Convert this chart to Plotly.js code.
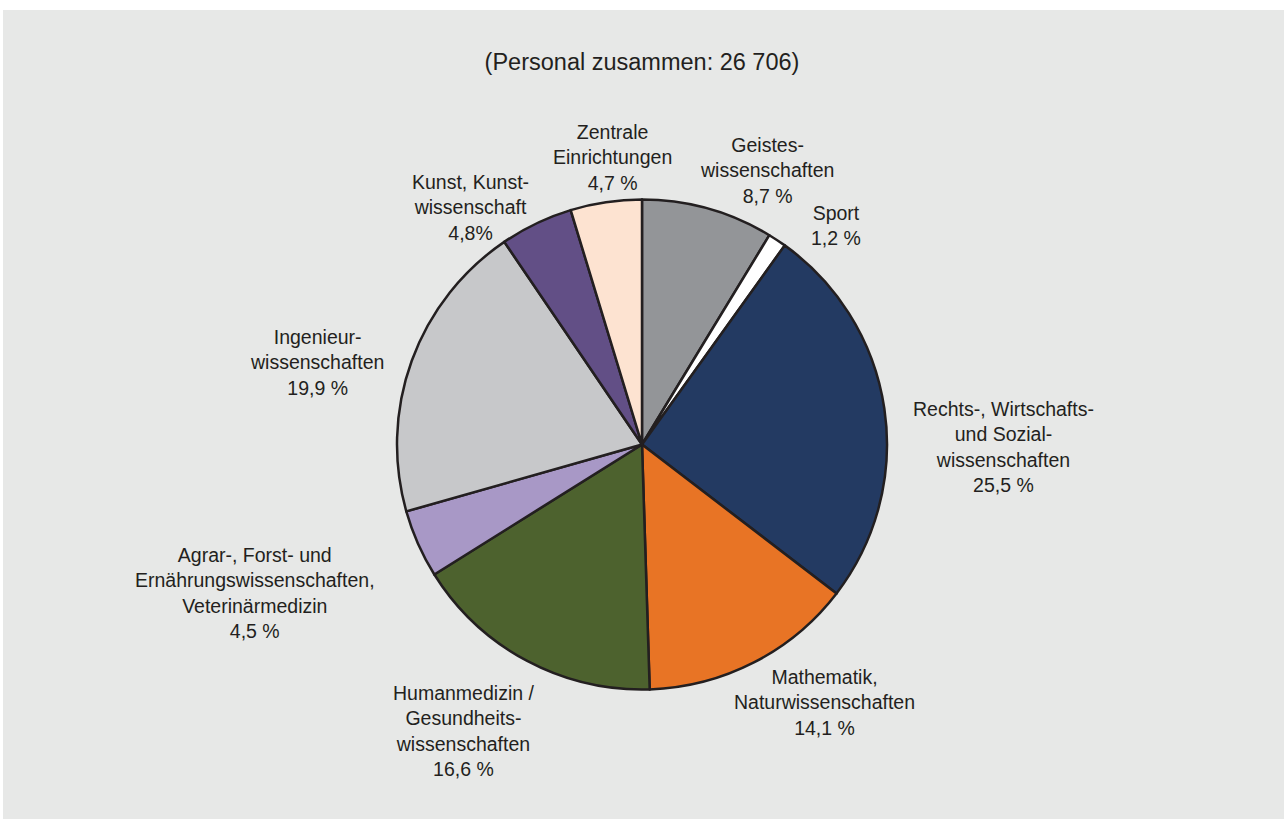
<!DOCTYPE html>
<html>
<head>
<meta charset="utf-8">
<script src="https://cdn.plot.ly/plotly-3.0.1.min.js"></script>
<style>html,body{margin:0;padding:0;background:#fff;}#chart{width:1284px;height:819px;}</style>
</head>
<body>
<div id="chart"></div>
<script>
// Data
const categories = [
  "Geistes-<br>wissenschaften",
  "Sport",
  "Rechts-, Wirtschafts-<br>und Sozial-<br>wissenschaften",
  "Mathematik,<br>Naturwissenschaften",
  "Humanmedizin /<br>Gesundheits-<br>wissenschaften",
  "Agrar-, Forst- und<br>Ernährungswissenschaften,<br>Veterinärmedizin",
  "Ingenieur-<br>wissenschaften",
  "Kunst, Kunst-<br>wissenschaft",
  "Zentrale<br>Einrichtungen"
];
const shares = [8.7, 1.2, 25.5, 14.1, 16.6, 4.5, 19.9, 4.8, 4.7];
const shareLabels = ["8,7 %", "1,2 %", "25,5 %", "14,1 %", "16,6 %", "4,5 %", "19,9 %", "4,8%", "4,7 %"];
const colors = ["#939598", "#ffffff", "#233a62", "#e87425", "#4d622e", "#a898c6", "#c7c8ca", "#624f86", "#fde3d1"];
const titleText = "(Personal zusammen: 26 706)";

// Layout helpers (pixel positions of label block centres)
const W = 1284, H = 819;
const labelPos = [[767,170],[836,225],[1003,447],[824,702],[463,731],[255,593],[317,362],[470,207],[612,157]];
const px = x => x / W, py = y => 1 - y / H;
const cx = 642, cy = 444.5, r = 245;
const FONT = "Liberation Sans, Arial, sans-serif";

const annotations = categories.map((c, i) => ({
  text: c + "<br>" + shareLabels[i],
  x: px(labelPos[i][0]), y: py(labelPos[i][1]),
  xref: "paper", yref: "paper", xanchor: "center", yanchor: "middle",
  showarrow: false, align: "center",
  font: {family: FONT, size: 19.5, color: "#231f20"}
}));

const trace = {
  type: "pie",
  values: shares,
  labels: categories,
  sort: false,
  direction: "clockwise",
  rotation: 0,
  textinfo: "none",
  hoverinfo: "none",
  marker: {colors: colors, line: {color: "#231f20", width: 2.5}},
  domain: {x: [px(cx - r), px(cx + r)], y: [py(cy + r), py(cy - r)]},
  showlegend: false
};

const layout = {
  width: W, height: H,
  margin: {l: 0, r: 0, t: 0, b: 0},
  paper_bgcolor: "#ffffff",
  showlegend: false,
  title: {text: titleText, x: 0.5, xanchor: "center", y: py(62), yanchor: "middle",
          font: {family: FONT, size: 23.5, color: "#231f20"}},
  shapes: [{type: "rect", xref: "paper", yref: "paper", x0: px(3), x1: 1, y0: 0, y1: py(10),
            fillcolor: "#e7e8e7", line: {width: 0}, layer: "below"}],
  annotations: annotations
};

Plotly.newPlot("chart", [trace], layout, {displayModeBar: false, staticPlot: true});
</script>
</body>
</html>
